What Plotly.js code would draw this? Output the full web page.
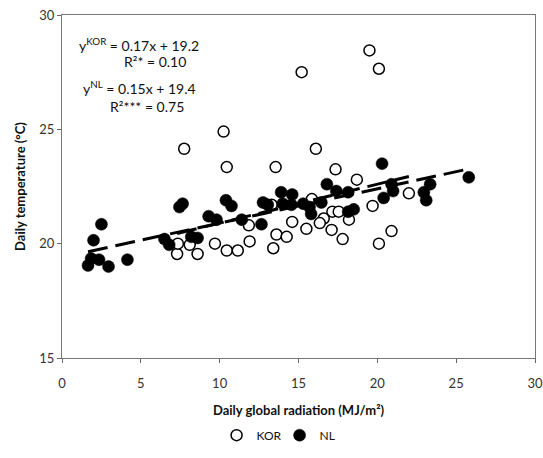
<!DOCTYPE html>
<html>
<head>
<meta charset="utf-8">
<script src="https://cdn.plot.ly/plotly-3.0.1.min.js"></script>
<style>html,body{margin:0;padding:0;background:#fff;}#chart{width:543px;height:458px;}</style>
</head>
<body>
<div id="chart"></div>
<script>
// KOR (open circles)
const korX = [19.5, 20.1, 15.2, 10.25, 7.75, 16.1, 10.45, 13.55, 17.35, 18.7, 22.0, 19.7, 15.85, 13.3, 17.15, 17.55, 16.6, 18.2, 16.35, 14.6, 15.5, 17.1, 20.9, 11.85, 13.6, 14.25, 17.8, 20.1, 11.9, 13.4, 9.7, 10.45, 11.15, 8.6, 7.3, 7.35, 8.1];
const korY = [28.45, 27.65, 27.5, 24.9, 24.15, 24.15, 23.35, 23.35, 23.25, 22.8, 22.2, 21.65, 21.95, 21.7, 21.4, 21.4, 21.1, 21.05, 20.9, 20.95, 20.65, 20.6, 20.55, 20.8, 20.4, 20.3, 20.2, 20.0, 20.1, 19.8, 20.0, 19.7, 19.7, 19.55, 19.55, 20.0, 19.95];
// NL (filled circles)
const nlX = [1.65, 1.85, 2.35, 2.95, 4.15, 2.0, 2.5, 6.5, 6.8, 7.45, 7.65, 8.2, 8.6, 9.3, 9.8, 10.4, 10.75, 11.4, 12.65, 12.75, 13.05, 13.9, 14.6, 14.55, 15.3, 15.7, 15.8, 16.45, 16.8, 17.4, 18.15, 18.15, 18.5, 20.3, 20.9, 21.0, 20.4, 23.35, 22.95, 23.1, 25.8, 14.0];
const nlY = [19.05, 19.35, 19.3, 19.0, 19.3, 20.15, 20.85, 20.2, 19.95, 21.6, 21.75, 20.3, 20.25, 21.2, 21.05, 21.9, 21.65, 21.05, 20.85, 21.8, 21.7, 22.25, 22.15, 21.7, 21.75, 21.6, 21.3, 21.8, 22.6, 22.3, 22.25, 21.4, 21.5, 23.5, 22.6, 22.3, 22.0, 22.6, 22.25, 21.9, 22.9, 21.75];
// regression lines (slope, intercept) and their x ranges
const korFit = [0.17, 19.2];
const nlFit = [0.15, 19.4];
const korRange = [7.3, 22.0];
const nlRange = [1.65, 25.8];
const xTicks = [0, 5, 10, 15, 20, 25, 30];
const yTicks = [15, 20, 25, 30];

const fitLine = (fit, r) => ({x: r, y: r.map(v => fit[0] * v + fit[1])});
const kl = fitLine(korFit, korRange);
const nl = fitLine(nlFit, nlRange);

const font = 'Lato, "Open Sans", sans-serif';
const traces = [
  {x: korX, y: korY, type: 'scatter', mode: 'markers', name: 'KOR',
   marker: {symbol: 'circle', size: 11, color: '#fff', line: {color: '#000', width: 1.5}}},
  {x: nlX, y: nlY, type: 'scatter', mode: 'markers', name: 'NL',
   marker: {symbol: 'circle', size: 12, color: '#000', line: {color: '#000', width: 0.5}}},
  {x: kl.x, y: kl.y, type: 'scatter', mode: 'lines', showlegend: false, hoverinfo: 'skip',
   line: {color: '#000', width: 3, dash: '20px,8px'}},
  {x: nl.x, y: nl.y, type: 'scatter', mode: 'lines', showlegend: false, hoverinfo: 'skip',
   line: {color: '#000', width: 3, dash: '20px,8px'}}
];

const ann = (x, y, text) => ({x, y, xref: 'x', yref: 'y', text, showarrow: false,
  font: {family: font, size: 14, color: '#111'}, xanchor: 'center', yanchor: 'middle'});

const layout = {
  width: 543, height: 458,
  margin: {l: 62, r: 8, t: 15, b: 98},
  paper_bgcolor: '#fff', plot_bgcolor: '#fff',
  font: {family: font, size: 13, color: '#222'},
  showlegend: true,
  legend: {orientation: 'h', x: 0.46, xanchor: 'center', y: -0.225, yanchor: 'middle',
           font: {family: font, size: 12, color: '#111'}, itemwidth: 30,
           entrywidth: 18, entrywidthmode: 'pixels', tracegroupgap: 0},
  xaxis: {range: [0, 30], tickvals: xTicks, ticks: 'outside', ticklen: 4, tickcolor: '#666',
          ticklabelstandoff: 9,
          showgrid: false, zeroline: false, showline: true, linecolor: '#777', linewidth: 1,
          mirror: true, tickfont: {family: font, size: 13, color: '#333'},
          title: {text: 'Daily global radiation (MJ/m²)', standoff: 16,
                  font: {family: font, size: 13, color: '#111', weight: 'bold'}}},
  yaxis: {range: [15, 30], tickvals: yTicks, ticks: 'outside', ticklen: 4, tickcolor: '#666',
          showgrid: false, zeroline: false, showline: true, linecolor: '#777', linewidth: 1,
          mirror: true, tickfont: {family: font, size: 13, color: '#333'},
          title: {text: 'Daily temperature (°C)', standoff: 10,
                  font: {family: font, size: 13, color: '#111', weight: 'bold'}}},
  annotations: [
    ann(4.9, 28.7, 'y<sup>KOR</sup> = 0.17x + 19.2'),
    ann(5.9, 27.95, 'R²* = 0.10'),
    ann(4.9, 26.85, 'y<sup>NL</sup> = 0.15x + 19.4'),
    ann(5.4, 26.0, 'R²*** = 0.75')
  ]
};

Plotly.newPlot('chart', traces, layout, {displayModeBar: false, staticPlot: true});
</script>
</body>
</html>
